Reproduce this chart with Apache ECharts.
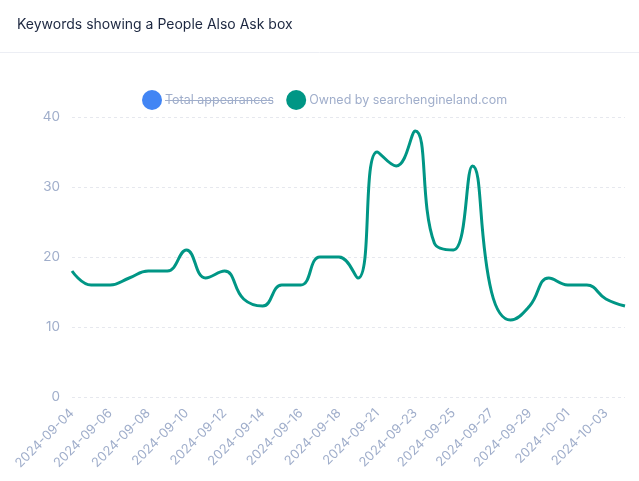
<!DOCTYPE html>
<html>
<head>
<meta charset="utf-8">
<script src="https://cdn.jsdelivr.net/npm/echarts@6/dist/echarts.min.js"></script>
<style>
html,body{margin:0;padding:0;background:#fff;}
#c{width:639px;height:481px;}
</style>
</head>
<body>
<div id="c"></div>
<script>
var dates = ['2024-09-04','2024-09-05','2024-09-06','2024-09-07','2024-09-08','2024-09-09','2024-09-10','2024-09-11','2024-09-12','2024-09-13','2024-09-14','2024-09-15','2024-09-16','2024-09-17','2024-09-18','2024-09-19','2024-09-21','2024-09-22','2024-09-23','2024-09-24','2024-09-25','2024-09-26','2024-09-27','2024-09-28','2024-09-29','2024-09-30','2024-10-01','2024-10-02','2024-10-03','2024-10-04'];
var owned = [18,16,16,17,18,18,21,17,18,14,13,16,16,20,20,17,35,33,38,22,21,33,15,11,13,17,16,16,14,13];
var totalAppearances = [];
var yTicks = [0,10,20,30,40];

var chart = echarts.init(document.getElementById('c'));
chart.setOption({
  backgroundColor:'#fff',
  animation:false,
  title:{text:'Keywords showing a People Also Ask box', left:12, top:13,
    textStyle:{fontFamily:'Inter', fontSize:14, fontWeight:'normal', color:'#1c2740'}},
  graphic:[
    {type:'line', shape:{x1:0,y1:52.5,x2:639,y2:52.5}, style:{stroke:'#eceef4', lineWidth:1}},
    {type:'line', shape:{x1:165,y1:100.5,x2:273,y2:100.5}, style:{stroke:'#a0aecb', lineWidth:1}, z:100}
  ],
  legend:{top:85, left:137, icon:'circle', itemWidth:20, itemHeight:20, itemGap:12,
    textStyle:{fontFamily:'Inter', fontSize:12.5, color:'#a0aecb', padding:[0,0,0,-2]},
    data:['Total appearances','Owned by searchengineland.com']},
  grid:{left:72, right:14, top:117, bottom:84},
  xAxis:{type:'category', data:dates, boundaryGap:false,
    axisLine:{show:false}, axisTick:{show:false},
    axisLabel:{rotate:45, interval:1, color:'#a0aecb', fontFamily:'Inter', fontSize:13, margin:14}},
  yAxis:{type:'value', min:yTicks[0], max:yTicks[yTicks.length-1], interval:10,
    axisLine:{show:false}, axisTick:{show:false},
    axisLabel:{color:'#a0aecb', fontFamily:'Inter', fontSize:13.5, margin:12}},
  series:[
    {name:'Total appearances', type:'line', data:totalAppearances, itemStyle:{color:'#4285f4'}},
    {name:'Owned by searchengineland.com', type:'line', data:owned, smooth:0.45, showSymbol:false,
      itemStyle:{color:'#009685'}, lineStyle:{width:3, color:'#009685'}}
  ]
});
chart.setOption({yAxis:{splitLine:{lineStyle:{color:'#e6e8ee', type:[3,3]}}}});
</script>
</body>
</html>
